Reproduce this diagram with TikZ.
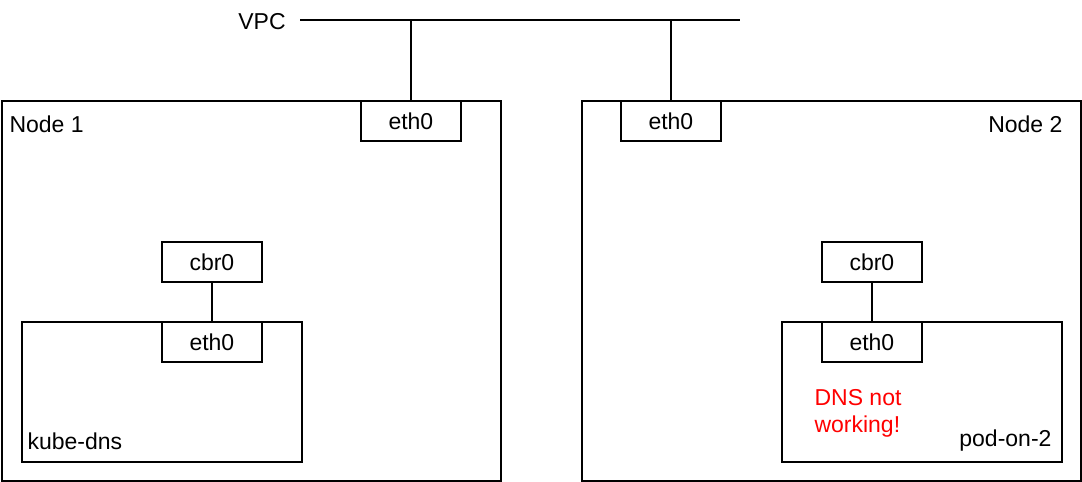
\documentclass[tikz,border=0pt]{standalone}
\usepackage{fontspec}
\setmainfont{Liberation Sans}
\usetikzlibrary{positioning}
\tikzset{every picture/.append style={font=\fontsize{23}{26}\selectfont}}
\tikzset{
  hostbox/.style={draw,line width=1.8pt,anchor=north west,minimum width=499pt,minimum height=380pt,inner sep=0pt},
  podbox/.style={draw,line width=1.8pt,anchor=north west,minimum width=280pt,minimum height=140pt,inner sep=0pt},
  ifbox/.style={draw,fill=white,line width=1.8pt,anchor=north west,minimum width=100pt,minimum height=40pt,inner sep=0pt},
  wire/.style={line width=1.8pt}
}

\begin{document}
\begin{tikzpicture}[x=1pt,y=-1pt]
  \useasboundingbox (0,0) rectangle (1082,482);
  % VPC
  \node (vpc) at (262,22) {VPC};
  \coordinate (vpcl) at (300,20);
  \coordinate (vpcr) at (740,20);
  \draw[wire] (vpcl) -- (vpcr);
  % Node 1
  \node[hostbox] (host1) at (1,100) {};
  \node[anchor=west] (host1lbl) at (6,124) {Node 1};
  \node[ifbox] (eth1) at (360,100) {eth0};
  \node[podbox] (pod1) at (21,321) {};
  \node[anchor=west] (pod1lbl) at (24,441) {kube-dns};
  \node[ifbox] (cbr1) at (161,241) {cbr0};
  \node[ifbox] (peth1) at (161,321) {eth0};
  % Node 2
  \node[hostbox] (host2) at (581,100) {};
  \node[anchor=east] (host2lbl) at (1066,124) {Node 2};
  \node[ifbox] (eth2) at (620,100) {eth0};
  \node[podbox] (pod2) at (781,321) {};
  \node[anchor=east] (pod2lbl) at (1055,441) {pod-on-2};
  \node[ifbox] (cbr2) at (821,241) {cbr0};
  \node[ifbox] (peth2) at (821,321) {eth0};
  \node[anchor=west,text=red,align=left,font=\fontsize{23}{27}\selectfont] (dnsmsg) at (811,413) {DNS not\\working!};
  % links
  \draw[wire] (eth1.north) -- (eth1.north |- vpcl);
  \draw[wire] (eth2.north) -- (eth2.north |- vpcl);
  \draw[wire] (cbr1) -- (peth1);
  \draw[wire] (cbr2) -- (peth2);
\end{tikzpicture}
\end{document}
